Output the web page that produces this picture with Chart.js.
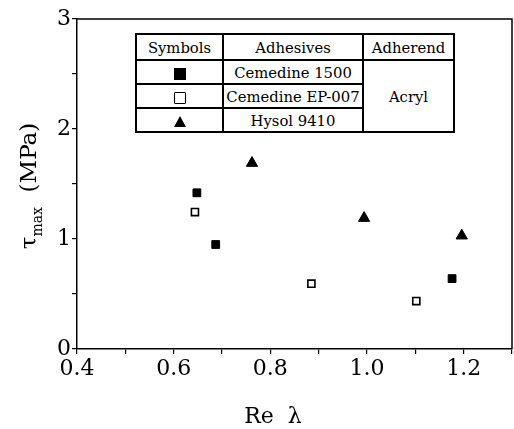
<!DOCTYPE html>
<html>
<head>
<meta charset="utf-8">
<script src="https://cdn.jsdelivr.net/npm/chart.js@4/dist/chart.umd.min.js"></script>
<style>
  html, body { margin: 0; padding: 0; background: #fff; }
  #wrap { position: relative; width: 514px; height: 429px; }
  #legend-table {
    position: absolute; left: 135px; top: 33px; width: 320px; height: 98px;
    border-collapse: collapse; background: #fff; color: #000; table-layout: fixed;
  }
  #legend-table td {
    border: 2px solid #000; text-align: center; padding: 0; white-space: nowrap; overflow: hidden;
    font-family: 'DejaVu Serif', 'Liberation Serif', serif; font-size: 14.8px; color: #000;
  }
  .sym { display: inline-block; vertical-align: middle; }
  .sq-fill { width: 12px; height: 12px; background: #000; }
  .sq-open { width: 10px; height: 10px; border: 1.5px solid #000; border-radius: 1px; }
  .tri { width: 0; height: 0; border-left: 6.5px solid transparent; border-right: 6.5px solid transparent; border-bottom: 11px solid #000; }
</style>
</head>
<body>
<div id="wrap">
  <canvas id="chart" width="514" height="429"></canvas>
  <table id="legend-table">
    <tr style="height:26px"><td style="width:85px">Symbols</td><td style="width:138px">Adhesives</td><td>Adherend</td></tr>
    <tr style="height:24px"><td><span class="sym sq-fill"></span></td><td>Cemedine 1500</td><td rowspan="3">Acryl</td></tr>
    <tr style="height:24px"><td><span class="sym sq-open"></span></td><td>Cemedine EP-007</td></tr>
    <tr style="height:24px"><td><span class="sym tri"></span></td><td>Hysol 9410</td></tr>
  </table>
</div>
<script>
// Re λ vs tau_max
const cemedine1500X = [0.648, 0.687, 1.176];
const cemedine1500Y = [1.42, 0.95, 0.64];
const ep007X = [0.644, 0.885, 1.102];
const ep007Y = [1.245, 0.594, 0.436];
const hysolX = [0.762, 0.994, 1.196];
const hysolY = [1.69, 1.19, 1.03];

const xMin = 0.4, xMax = 1.3, xStep = 0.1;
const yMin = 0, yMax = 3, yStep = 0.5;

const toPoints = (xs, ys) => xs.map((x, i) => ({ x, y: ys[i] }));
const tickFont = { family: 'DejaVu Serif', size: 22 };

const framePlugin = {
  id: 'frame',
  afterDraw(chart) {
    const { ctx, chartArea: a } = chart;
    ctx.save();
    ctx.strokeStyle = '#000';
    ctx.lineWidth = 1.5;
    ctx.beginPath();
    ctx.moveTo(a.left, a.top);
    ctx.lineTo(a.right, a.top);
    ctx.lineTo(a.right, a.bottom);
    ctx.stroke();

    ctx.fillStyle = '#000';
    // x title
    ctx.font = '22px "DejaVu Serif"';
    ctx.textAlign = 'center';
    ctx.textBaseline = 'alphabetic';
    ctx.fillText('Re  λ', 273, 423);

    // y title, rotated, with subscript
    ctx.translate(36, 186);
    ctx.rotate(-Math.PI / 2);
    ctx.textAlign = 'left';
    const big = '23px "DejaVu Serif"', small = '14px "DejaVu Serif"';
    ctx.font = big;  const w1 = ctx.measureText('τ').width;
    ctx.font = small; const w2 = ctx.measureText('max').width;
    ctx.font = big;  const w3 = ctx.measureText('  (MPa)').width;
    let x0 = -(w1 + w2 + w3) / 2;
    ctx.font = big;  ctx.fillText('τ', x0, 0); x0 += w1;
    ctx.font = small; ctx.fillText('max', x0, 6); x0 += w2;
    ctx.font = big;  ctx.fillText('  (MPa)', x0, 0);
    ctx.restore();
  }
};

new Chart(document.getElementById('chart'), {
  type: 'scatter',
  data: {
    datasets: [
      { label: 'Cemedine 1500', data: toPoints(cemedine1500X, cemedine1500Y),
        pointStyle: 'rect', pointRadius: 5.5, backgroundColor: '#000', borderColor: '#000', borderWidth: 1 },
      { label: 'Cemedine EP-007', data: toPoints(ep007X, ep007Y),
        pointStyle: 'rect', pointRadius: 5, backgroundColor: '#fff', borderColor: '#000', borderWidth: 1.6 },
      { label: 'Hysol 9410', data: toPoints(hysolX, hysolY),
        pointStyle: 'triangle', pointRadius: 6.5, backgroundColor: '#000', borderColor: '#000', borderWidth: 1 },
    ],
  },
  options: {
    responsive: false, animation: false,
    layout: { autoPadding: false, padding: { left: 0, top: 19, right: 2, bottom: 0 } },
    plugins: { legend: { display: false }, tooltip: { enabled: false } },
    scales: {
      x: {
        type: 'linear', min: xMin, max: xMax,
        afterFit: s => { s.height = 80; s.paddingRight = 0; },
        border: { color: '#000', width: 1.5 },
        grid: { drawOnChartArea: false, color: '#000', tickLength: 5, lineWidth: 1.2 },
        ticks: {
          stepSize: xStep, color: '#000', font: tickFont, padding: 2, autoSkip: false, maxRotation: 0,
          callback: v => (Math.round(v * 10) % 2 === 0 ? v.toFixed(1) : ''),
        },
      },
      y: {
        type: 'linear', min: yMin, max: yMax,
        afterFit: s => { s.width = 77; },
        border: { color: '#000', width: 1.5 },
        grid: { drawOnChartArea: false, color: '#000', tickLength: 5, lineWidth: 1.2 },
        ticks: {
          stepSize: yStep, color: '#000', font: tickFont, padding: 1,
          callback: v => (Number.isInteger(v) ? String(v) : ''),
        },
      },
    },
  },
  plugins: [framePlugin],
});
</script>
</body>
</html>
